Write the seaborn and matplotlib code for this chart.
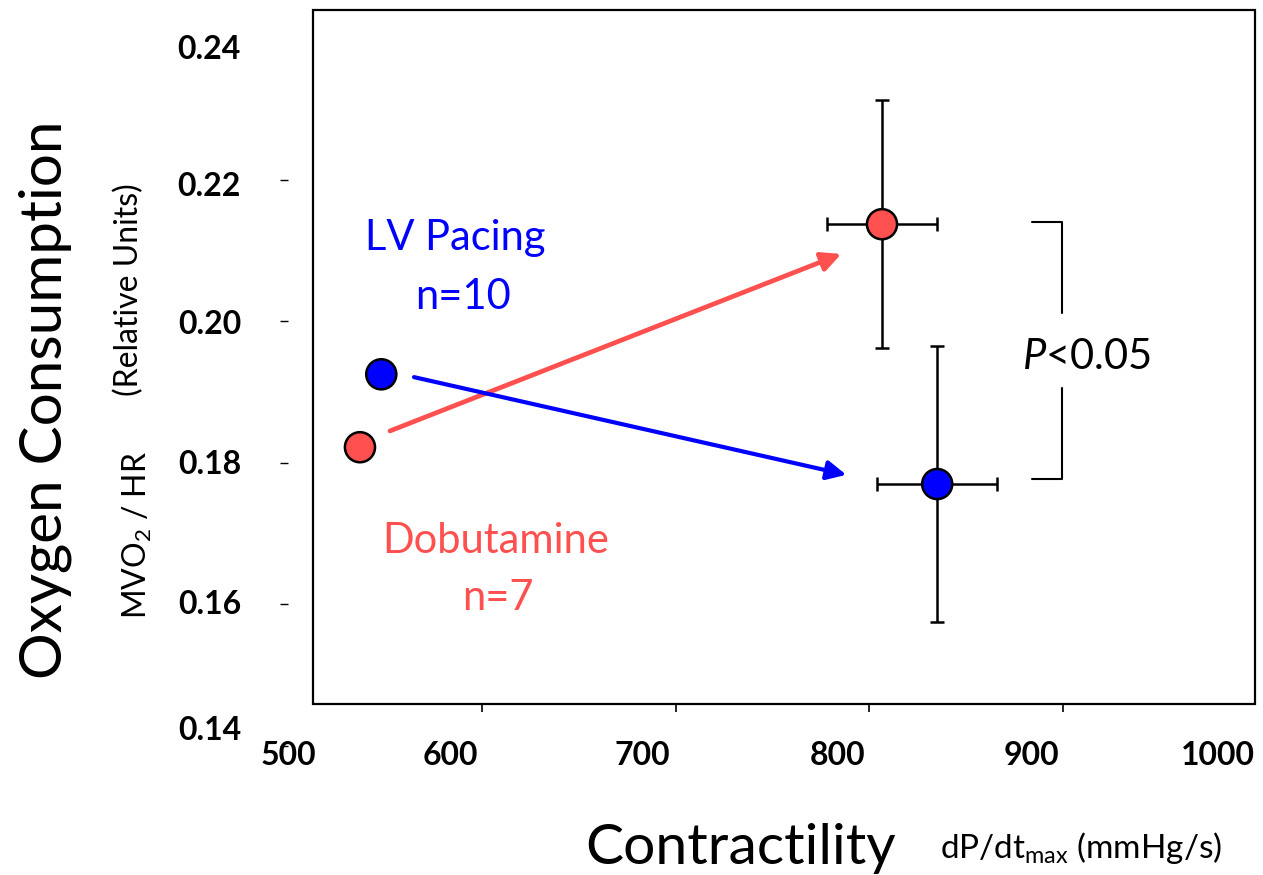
import matplotlib
matplotlib.use("Agg")
import matplotlib.pyplot as plt
import matplotlib.transforms as mtransforms
from matplotlib.patches import Rectangle
import pandas as pd
import seaborn as sns

# Mean contractility (dP/dt max) and oxygen consumption (MVO2/HR) per group
groups = ["LV Pacing", "LV Pacing", "Dobutamine", "Dobutamine"]
phases = ["baseline", "stimulated", "baseline", "stimulated"]
dpdt_max = [548.0, 835.0, 537.0, 806.5]
mvo2_hr = [0.1925, 0.1770, 0.1822, 0.2137]
dpdt_err = [0.0, 31.0, 0.0, 28.6]
mvo2_err = [0.0, 0.0195, 0.0, 0.0175]

group_n = {"LV Pacing": 10, "Dobutamine": 7}
group_colors = {"LV Pacing": "#0000FF", "Dobutamine": "#FF5050"}

# Arrow start / tip for each group's change (dP/dt, MVO2/HR)
arrow_start = {"Dobutamine": (552.5, 0.1845), "LV Pacing": (564.9, 0.1921)}
arrow_tip = {"Dobutamine": (785.5, 0.2095), "LV Pacing": (788.1, 0.1783)}

x_ticks = [500, 600, 700, 800, 900, 1000]
x_tick_labels = ["500", "600", "700", "800", "900", "1000"]
y_ticks = [0.14, 0.16, 0.18, 0.20, 0.22, 0.24]
y_tick_labels = ["0.14", "0.16", "0.18", "0.20", "0.22", "0.24"]
p_label = "$P$<0.05"

sns.set_theme(style="white")
plt.rcParams["font.family"] = ["Lato", "DejaVu Sans"]
plt.rcParams["mathtext.fontset"] = "custom"
plt.rcParams["mathtext.rm"] = "Lato"
plt.rcParams["mathtext.it"] = "Lato:italic"
plt.rcParams["mathtext.bf"] = "Lato:bold"

df = pd.DataFrame({"group": groups, "phase": phases, "dpdt": dpdt_max,
                   "mvo2": mvo2_hr, "dpdt_err": dpdt_err, "mvo2_err": mvo2_err})

W, H = 1263, 875
fig = plt.figure(figsize=(W / 100, H / 100), dpi=100)
ax = fig.add_axes([288.3 / W, 1 - 746 / H, 968.5 / W, 708 / H])
ax.set_xlim(500, 1000)
ax.set_ylim(0.14, 0.24)

# plotting frame (drawn independently of the tick scale)
frame_x = (512.8, 999.1)
frame_y = (0.14597, 0.2440)
ax.add_patch(Rectangle((frame_x[0], frame_y[0]), frame_x[1] - frame_x[0],
                       frame_y[1] - frame_y[0], fill=False, ec="black",
                       lw=1.6, clip_on=False, zorder=1))

for sp in ax.spines.values():
    sp.set_visible(False)
ax.spines["bottom"].set_position(("data", frame_y[0]))

# error bars on stimulated means
stim = df[df["phase"] == "stimulated"]
ax.errorbar(stim["dpdt"], stim["mvo2"], xerr=stim["dpdt_err"], yerr=stim["mvo2_err"],
            fmt="none", ecolor="black", elinewidth=1.8, capsize=5, capthick=1.8,
            zorder=2, clip_on=False)

# arrows from baseline to stimulated state
for g in ["Dobutamine", "LV Pacing"]:
    ax.annotate("", xy=arrow_tip[g], xytext=arrow_start[g],
                arrowprops=dict(arrowstyle="-|>,head_length=0.65,head_width=0.32",
                                color=group_colors[g], lw=3.4 if g == "Dobutamine" else 3.0,
                                shrinkA=0, shrinkB=0, mutation_scale=18),
                zorder=3)

sns.scatterplot(data=df, x="dpdt", y="mvo2", hue="group", palette=group_colors,
                s=470, edgecolor="black", linewidth=1.8, legend=False, zorder=5,
                clip_on=False, ax=ax)

ax.set_xlabel("")
ax.set_ylabel("")
ax.set_xticks(x_ticks, x_tick_labels)
ax.set_yticks(y_ticks, y_tick_labels)
ax.tick_params(axis="x", direction="out", length=6, width=1.2, color="black",
               pad=21, labelsize=23, bottom=True)
ax.tick_params(axis="y", direction="out", length=6, width=1.0, color="black",
               pad=28, labelsize=23, left=True)
for lab in ax.get_xticklabels() + ax.get_yticklabels():
    lab.set_fontweight("bold")
    lab.set_color("black")

# tick label shifts in pixels
x_label_shift = [0, -32, -33, -32, -32, -39]
y_label_shift = [18, 2, 1, -1, -4, -9]
for lab, dx in zip(ax.get_xticklabels(), x_label_shift):
    lab.set_transform(lab.get_transform() +
                      mtransforms.ScaledTranslation(dx / 100, 0, fig.dpi_scale_trans))
for lab, dy in zip(ax.get_yticklabels(), y_label_shift):
    lab.set_transform(lab.get_transform() +
                      mtransforms.ScaledTranslation(0, dy / 100, fig.dpi_scale_trans))

xt = ax.xaxis.get_major_ticks()
xt[0].tick1line.set_visible(False)
xt[-1].tick1line.set_visible(False)
yt = ax.yaxis.get_major_ticks()
yt[-1].tick1line.set_visible(False)

# group labels
ax.text(586, 0.2118, "LV Pacing", color=group_colors["LV Pacing"], fontsize=30,
        ha="center", va="center")
ax.text(590, 0.2034, f"n={group_n['LV Pacing']}", color=group_colors["LV Pacing"],
        fontsize=30, ha="center", va="center")
ax.text(607, 0.1690, "Dobutamine", color=group_colors["Dobutamine"], fontsize=30,
        ha="center", va="center")
ax.text(608, 0.1609, f"n={group_n['Dobutamine']}", color=group_colors["Dobutamine"],
        fontsize=30, ha="center", va="center")

# significance bracket between stimulated means
bx0, bx1 = 884, 899.4
top, bot = df.loc[3, "mvo2"] + 0.0003, df.loc[1, "mvo2"] + 0.0007
ax.plot([bx0, bx1, bx1], [top, top, 0.2012], color="black", lw=1.5, clip_on=False)
ax.plot([bx0, bx1, bx1], [bot, bot, 0.1906], color="black", lw=1.5, clip_on=False)
ax.text(879, 0.1950, p_label, fontsize=30, ha="left", va="center", color="black")

# axis titles
fig.text(45 / W, 1 - 400 / H, "Oxygen Consumption", rotation=90, fontsize=42,
         ha="center", va="center", color="black")
fig.text(129 / W, 1 - 290 / H, "(Relative Units)", rotation=90, fontsize=23,
         ha="center", va="center", color="black")
fig.text(137 / W, 1 - 535 / H, "MVO$_2$ / HR", rotation=90, fontsize=23,
         ha="center", va="center", color="black")
fig.text(585 / W, 1 - 864 / H, "Contractility", fontsize=41, ha="left",
         va="baseline", color="black")
fig.text(940 / W, 1 - 858 / H, "dP/dt$_{\\mathrm{max}}$ (mmHg/s)", fontsize=24,
         ha="left", va="baseline", color="black")

fig.savefig("out.png", dpi=100, facecolor="white")
